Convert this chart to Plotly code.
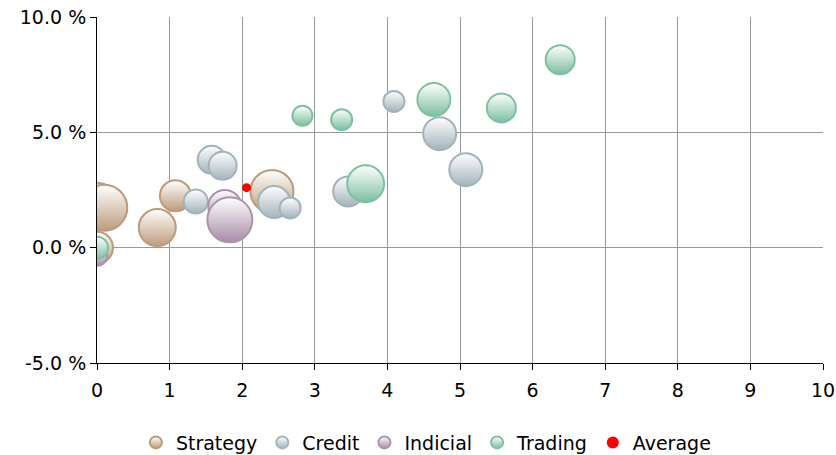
import plotly.graph_objects as go

# ---- data ----
strategy_x = [0.00, 0.10, 0.00, 0.83, 1.08, 2.41]
strategy_y = [1.95, 1.73, 0.00, 0.87, 2.25, 2.44]
strategy_w = [40, 46, 32, 37, 31, 43]

credit_x = [1.58, 1.73, 1.36, 2.44, 2.66, 3.46, 4.09, 4.72, 5.08]
credit_y = [3.81, 3.55, 2.00, 1.98, 1.72, 2.44, 6.34, 4.94, 3.38]
credit_w = [28, 28, 24, 32, 21, 30, 21, 33, 33]

indicial_x = [0.00, 1.76, 1.83]
indicial_y = [-0.35, 1.79, 1.21]
indicial_w = [20, 33, 45]

trading_x = [0.00, 2.83, 3.37, 3.70, 4.64, 5.57, 6.38]
trading_y = [0.00, 5.72, 5.55, 2.77, 6.42, 6.06, 8.15]
trading_w = [22, 20, 21, 37, 33, 29, 29]

average_x = [2.06]
average_y = [2.60]

x_ticks = [0, 1, 2, 3, 4, 5, 6, 7, 8, 9, 10]
y_ticks = [-5, 0, 5, 10]
y_tick_labels = ["-5.0 %", "0.0 %", "5.0 %", "10.0 %"]

series = [
    ("Strategy", strategy_x, strategy_y, strategy_w, "#bc9c7c", "#bb9b7b"),
    ("Credit", credit_x, credit_y, credit_w, "#a3b3bb", "#a3b3bb"),
    ("Indicial", indicial_x, indicial_y, indicial_w, "#a68ca6", "#ab94ab"),
    ("Trading", trading_x, trading_y, trading_w, "#7cbf9f", "#7cc2a2"),
]

fig = go.Figure()
for name, xs, ys, ws, fill, line in series:
    fig.add_trace(go.Scatter(
        x=xs, y=ys, mode="markers", name=name,
        marker=dict(size=ws, sizemode="diameter", sizeref=1,
                    color="#ffffff",
                    gradient=dict(type="vertical", color=fill),
                    line=dict(color=line, width=2), opacity=1),
    ))

fig.add_trace(go.Scatter(
    x=average_x, y=average_y, mode="markers", name="Average",
    marker=dict(size=9, color="#ff0000", line=dict(width=0)),
))

fig.update_layout(
    width=836, height=455,
    margin=dict(l=97, r=13, t=17, b=92, autoexpand=False),
    plot_bgcolor="white", paper_bgcolor="white",
    font=dict(family="DejaVu Sans, Verdana, sans-serif", size=19, color="#000000"),
    showlegend=True,
    legend=dict(orientation="h", x=0.453, xanchor="center", y=-0.175, yanchor="top",
                font=dict(size=19), itemsizing="constant"),
)
fig.update_xaxes(range=[0, 10], tickvals=x_ticks, showgrid=True, gridcolor="#999999",
                 gridwidth=1, showline=True, linecolor="#000000", linewidth=1,
                 ticks="outside", ticklen=6, tickcolor="#000000", zeroline=False,
                 automargin=False, ticklabelstandoff=4)
fig.update_yaxes(range=[-5, 10], tickvals=y_ticks, ticktext=y_tick_labels,
                 showgrid=True, gridcolor="#999999", gridwidth=1, showline=True,
                 linecolor="#000000", linewidth=1, ticks="outside", ticklen=6,
                 tickcolor="#000000", zeroline=False, automargin=False)

fig.write_html("out.html", config={"displayModeBar": False},
               post_script="document.body.style.margin='0px';document.body.style.overflow='hidden';")
